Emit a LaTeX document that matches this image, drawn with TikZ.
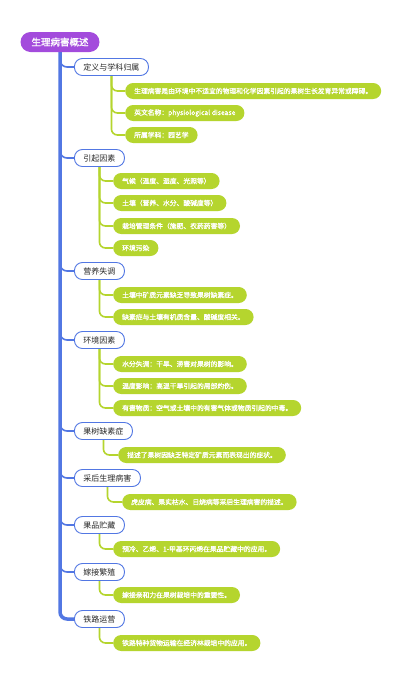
\documentclass[tikz,border=0pt]{standalone}
\usepackage{fontspec}
\usetikzlibrary{backgrounds}
\newfontfamily\cjk{Noto Sans CJK SC}
\newfontfamily\cjkb{Noto Sans CJK SC}[FakeBold=1.4]
\definecolor{rootc}{HTML}{A34BDC}
\definecolor{bluec}{HTML}{5277E3}
\definecolor{greenc}{HTML}{B5D52E}
\tikzset{
  rootbox/.style={fill=rootc, text=white, rounded corners=10pt, minimum height=20pt, inner xsep=11pt, inner ysep=0pt, font=\cjkb\fontsize{9.5}{10}\selectfont},
  topicbox/.style={draw=bluec, line width=0.9pt, fill=white, text=black!85, rounded corners=8pt, minimum height=17pt, inner xsep=9pt, inner ysep=0pt, anchor=west, font=\cjk\fontsize{8}{9}\selectfont},
  leafbox/.style={fill=greenc, text=white, rounded corners=8pt, minimum height=16pt, inner xsep=9pt, inner ysep=0pt, anchor=west, font=\cjkb\fontsize{6.8}{7}\selectfont},
  trunk/.style={draw=bluec, line width=3.5pt, rounded corners=7pt},
  branch/.style={draw=bluec, line width=1.6pt, rounded corners=7pt},
  leafline/.style={draw=greenc, line width=1.6pt, rounded corners=6pt}
}
\begin{document}
\begin{tikzpicture}[x=1pt,y=-1pt]
\useasboundingbox (0,0) rectangle (400,681);

\node[rootbox] (root) at (60,42) {生理病害概述};

\node[topicbox] (t1) at (74,67) {定义与学科归属};
\node[topicbox] (t2) at (74,158) {引起因素};
\node[topicbox] (t3) at (74,271) {营养失调};
\node[topicbox] (t4) at (74,340) {环境因素};
\node[topicbox] (t5) at (74,431) {果树缺素症};
\node[topicbox] (t6) at (74,478) {采后生理病害};
\node[topicbox] (t7) at (74,525) {果品贮藏};
\node[topicbox] (t8) at (74,572) {嫁接繁殖};
\node[topicbox] (t9) at (74,619) {铁路运营};

\node[leafbox] (a1) at (125,91) {生理病害是由环境中不适宜的物理和化学因素引起的果树生长发育异常或障碍。};
\node[leafbox] (a2) at (125,113) {英文名称：physiological disease};
\node[leafbox] (a3) at (125,135) {所属学科：园艺学};

\node[leafbox] (b1) at (113,181) {气候（温度、湿度、光照等）};
\node[leafbox] (b2) at (113,203) {土壤（营养、水分、酸碱度等）};
\node[leafbox] (b3) at (113,226) {栽培管理条件（施肥、农药药害等）};
\node[leafbox] (b4) at (113,248) {环境污染};

\node[leafbox] (c1) at (113,295) {土壤中矿质元素缺乏导致果树缺素症。};
\node[leafbox] (c2) at (113,317) {缺素症与土壤有机质含量、酸碱度相关。};

\node[leafbox] (d1) at (113,364) {水分失调：干旱、涝害对果树的影响。};
\node[leafbox] (d2) at (113,386) {温度影响：高温干旱引起的局部灼伤。};
\node[leafbox] (d3) at (113,408) {有害物质：空气或土壤中的有害气体或物质引起的中毒。};

\node[leafbox] (e1) at (118,455) {描述了果树因缺乏特定矿质元素而表现出的症状。};
\node[leafbox] (f1) at (122,502) {虎皮病、果实枯水、日烧病等采后生理病害的描述。};
\node[leafbox] (g1) at (113,549) {预冷、乙烯、1-甲基环丙烯在果品贮藏中的应用。};
\node[leafbox] (h1) at (113,595) {嫁接亲和力在果树栽培中的重要性。};
\node[leafbox] (i1) at (113,643) {铁路特种货物运输在经济林栽培中的应用。};

\begin{scope}[on background layer]
\fill[white] (0,0) rectangle (400,681);
\path[trunk] (root.south) |- (t9.west);
\foreach \t in {t1,t2,t3,t4,t5,t6,t7,t8}
  \path[branch] (root.south) |- (\t.west);
\foreach \l in {a1,a2,a3} \path[leafline] (t1.south) |- (\l.west);
\foreach \l in {b1,b2,b3,b4} \path[leafline] (t2.south) |- (\l.west);
\foreach \l in {c1,c2} \path[leafline] (t3.south) |- (\l.west);
\foreach \l in {d1,d2,d3} \path[leafline] (t4.south) |- (\l.west);
\path[leafline] (t5.south) |- (e1.west);
\path[leafline] (t6.south) |- (f1.west);
\path[leafline] (t7.south) |- (g1.west);
\path[leafline] (t8.south) |- (h1.west);
\path[leafline] (t9.south) |- (i1.west);
\end{scope}
\end{tikzpicture}
\end{document}
